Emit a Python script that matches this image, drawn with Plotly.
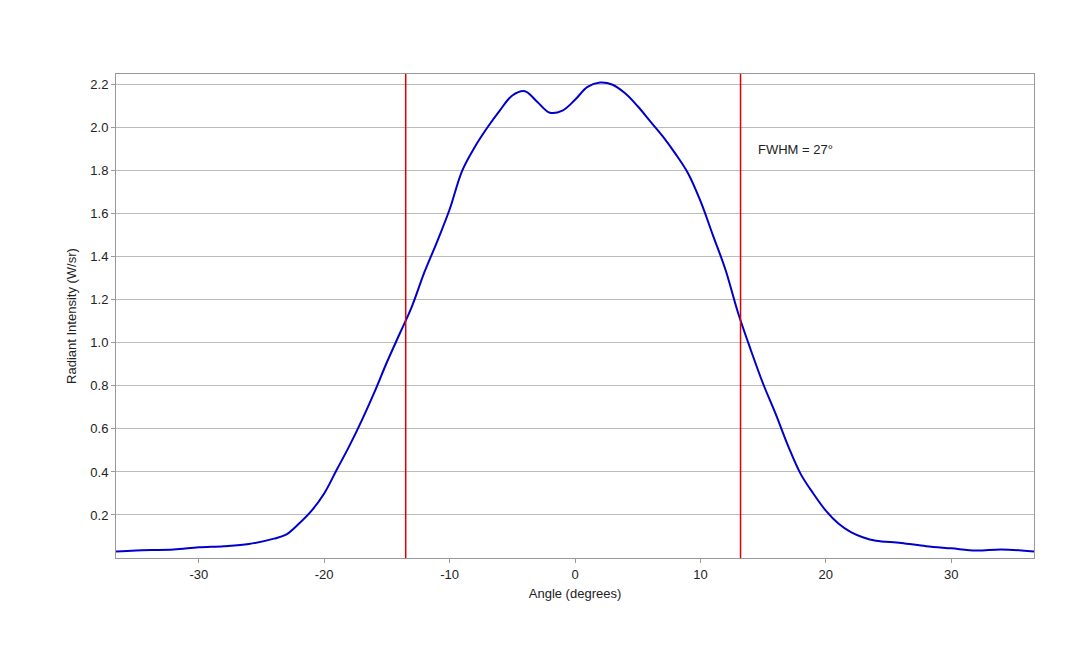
import plotly.graph_objects as go

angle = [-36.6, -35, -32, -30, -28, -26, -24, -23, -22, -21, -20, -19, -18, -17, -16, -15, -14, -13, -12, -11,
         -10, -9, -8, -7, -6, -5, -4, -3, -2, -1, 0, 1, 2, 3, 4, 5, 6, 7, 8, 9,
         10, 11, 12, 13, 14, 15, 16, 17, 18, 19, 20, 21, 22, 23, 24, 26, 28, 30, 32, 34, 36.6]
intensity = [0.03, 0.035, 0.04, 0.05, 0.055, 0.065, 0.09, 0.11, 0.16, 0.22, 0.30, 0.41, 0.52, 0.64, 0.77, 0.91, 1.04, 1.17, 1.33, 1.47,
             1.62, 1.80, 1.91, 2.00, 2.08, 2.15, 2.17, 2.12, 2.07, 2.08, 2.13, 2.19, 2.21, 2.20, 2.16, 2.10, 2.03, 1.96, 1.88, 1.79,
             1.66, 1.50, 1.34, 1.14, 0.97, 0.81, 0.67, 0.52, 0.39, 0.30, 0.22, 0.16, 0.12, 0.095, 0.08, 0.07, 0.055, 0.045, 0.035, 0.04, 0.03]
fwhm_lines = [-13.5, 13.2]
x_ticks = [-30, -20, -10, 0, 10, 20, 30]
x_labels = ["-30", "-20", "-10", "0", "10", "20", "30"]

fig = go.Figure()
fig.add_trace(go.Scatter(x=angle, y=intensity, mode="lines",
                         line=dict(color="#0000cc", width=2, shape="spline", smoothing=1.0)))
for xv in fwhm_lines:
    fig.add_vline(x=xv, line=dict(color="#dd0000", width=1.5))

fig.add_annotation(x=14.4, y=1.9, text="FWHM = 27°", showarrow=False, xanchor="left",
                   font=dict(size=13, color="#222"))

fig.update_layout(
    width=1080, height=648, showlegend=False,
    plot_bgcolor="white", paper_bgcolor="white",
    margin=dict(l=108, r=54, t=66, b=98),
    font=dict(family="Liberation Sans, Arial", size=13, color="#222"),
    xaxis=dict(range=[-36.6, 36.6], tickvals=x_ticks, ticktext=x_labels, automargin=False,
               title=dict(text="Angle (degrees)", standoff=8, font=dict(size=13)), showgrid=False,
               showline=True, linecolor="#999", mirror=True, ticks="outside",
               ticklen=4, tickcolor="#999", zeroline=False),
    yaxis=dict(range=[0, 2.25], tickvals=[0.2, 0.4, 0.6, 0.8, 1.0, 1.2, 1.4, 1.6, 1.8, 2.0, 2.2],
               tickformat=".1f", automargin=False,
               title=dict(text="Radiant Intensity (W/sr)", standoff=10, font=dict(size=13)),
               showgrid=True, gridcolor="#bbbbbb", showline=True, linecolor="#999", mirror=True,
               ticks="outside", ticklen=4, tickcolor="#999", zeroline=False),
)

fig.write_html("out.html")
